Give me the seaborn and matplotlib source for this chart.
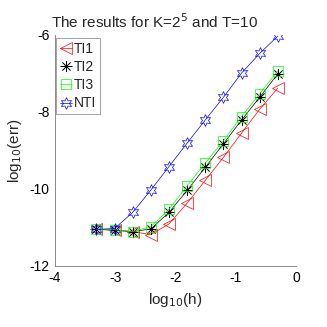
import numpy as np
import pandas as pd
import matplotlib
matplotlib.use("Agg")
import matplotlib.pyplot as plt
import seaborn as sns

# log10(h) for h = 2^-1 ... 2^-11
log_h = [-0.301, -0.602, -0.903, -1.204, -1.505, -1.806, -2.107, -2.408, -2.709, -3.010, -3.311]

err_ti1 = [-7.38, -7.93, -8.55, -9.18, -9.78, -10.37, -10.91, -11.19, -11.11, -11.08, -11.05]
err_ti2 = [-7.01, -7.62, -8.21, -8.83, -9.44, -10.04, -10.61, -11.04, -11.11, -11.07, -11.05]
err_ti3 = [-6.93, -7.53, -8.12, -8.75, -9.33, -9.92, -10.53, -10.98, -11.11, -11.06, -11.05]
err_nti = [-6.03, -6.48, -6.99, -7.62, -8.21, -8.81, -9.42, -10.03, -10.61, -11.03, -11.05]

series_names = ["TI1", "TI2", "TI3", "NTI"]
series_vals = [err_ti1, err_ti2, err_ti3, err_nti]
colors = ["#ff0000", "#000000", "#00ff00", "#0000ff"]
markers = ["<", (8, 2, 0), "s", (6, 1, 0)]
msizes = [8.5, 8, 6.5, 8.5]

sns.set_style("white")
plt.rcParams["font.family"] = ["Liberation Sans", "DejaVu Sans"]
plt.rcParams["axes.unicode_minus"] = False

fig = plt.figure(figsize=(3.27, 3.27), dpi=100)
ax = fig.add_axes([0.168, 0.187, 0.737, 0.706])

for name, vals, c, m, ms in zip(series_names, series_vals, colors, markers, msizes):
    df = pd.DataFrame({"log_h": log_h, "err": vals})
    sns.lineplot(data=df, x="log_h", y="err", ax=ax, color=c, marker=m,
                 markersize=ms, markerfacecolor="none", markeredgecolor=c,
                 markeredgewidth=0.5, linewidth=0.5, label=name, sort=False)

ax.set_xlim(-4, 0)
ax.set_ylim(-12, -6)
ax.set_xticks([-4, -3, -2, -1, 0])
ax.set_yticks([-12, -10, -8, -6])
ax.tick_params(direction="in", length=3, width=0.6, colors="#555555",
               labelcolor="black", labelsize=10, pad=4)
for s in ["top", "right"]:
    ax.spines[s].set_visible(False)
for s in ["left", "bottom"]:
    ax.spines[s].set_color("#777777")
    ax.spines[s].set_linewidth(0.6)

ax.set_xlabel(r"log$_{10}$(h)", fontsize=11)
ax.set_ylabel(r"log$_{10}$(err)", fontsize=11)
ax.set_title(r"The results for K=2$^5$ and T=10", fontsize=11, pad=5, x=0.415)

leg = ax.legend(loc="upper left", bbox_to_anchor=(0.005, 0.985), fontsize=10,
                frameon=True, fancybox=False, handlelength=0.9, handletextpad=0.15,
                borderpad=0.25, labelspacing=0.3, borderaxespad=0.0)
leg.get_frame().set_edgecolor("#777777")
leg.get_frame().set_linewidth(0.6)

fig.savefig("out.png", dpi=100)
